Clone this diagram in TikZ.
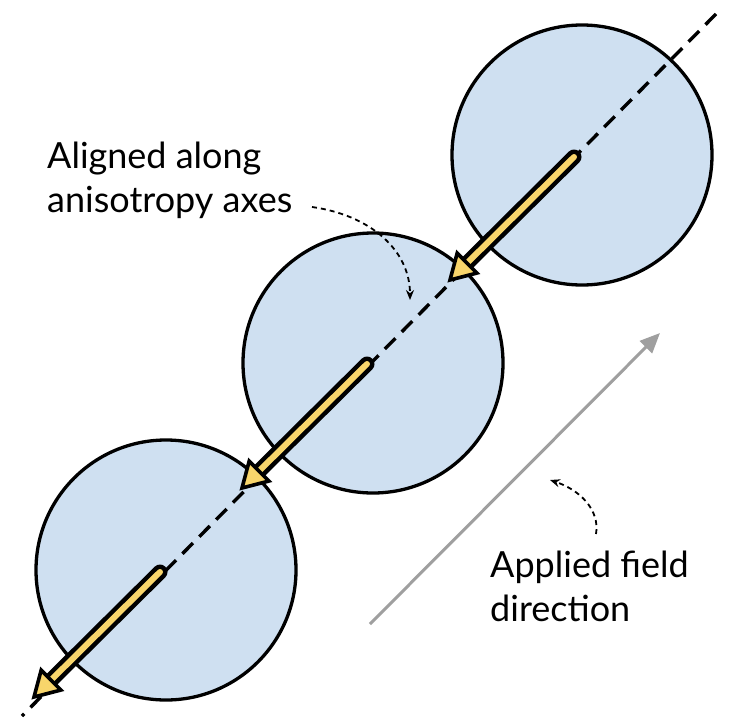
\documentclass[tikz,border=0pt]{standalone}
\usepackage{fontspec}
\setmainfont{Lato}
\usetikzlibrary{calc,arrows.meta}
\definecolor{cfill}{HTML}{CFE0F1}
\definecolor{yel}{HTML}{F8D56B}
\tikzset{
  disc/.style={circle,draw=black,line width=3.3pt,fill=cfill,minimum size=260pt,inner sep=0pt},
  axisline/.style={line width=3.4pt,dash pattern=on 15pt off 9pt},
  lbl/.style={font=\fontsize{36}{44}\selectfont,align=left,anchor=west,inner sep=0pt},
  callout/.style={line width=1.8pt,dash pattern=on 5pt off 4pt,-{Stealth[length=10pt,width=8pt]}},
  field/.style={line width=3pt,draw=gray!75,-{Triangle[length=20pt,width=17pt]}}
}
\newcommand{\magarrow}[2]{%
  \coordinate (hb) at ($(#2)!24pt!(#1)$);
  \draw[line width=15pt,line cap=round] (#1) -- (hb);
  \draw[line width=6pt,yel,line cap=round] (#1) -- ($(hb)!-3pt!(#1)$);
  \draw[line width=3.6pt,fill=yel,line join=miter] (#2) -- ($(hb)!14pt!90:(#2)$) -- ($(hb)!14pt!-90:(#2)$) -- cycle;
}
\begin{document}
\begin{tikzpicture}[x=1pt,y=-1pt]
\useasboundingbox (0,0) rectangle (747,723);
\node[disc] (c1) at (582,155) {};
\node[disc] (c2) at (373,363) {};
\node[disc] (c3) at (166,570) {};
\coordinate (ta) at (716,14);
\coordinate (tb) at (22,716);
\draw[axisline] (ta) -- (tb);
\coordinate (a1s) at (574,157); \coordinate (a1e) at (450,280);
\coordinate (a2s) at (367,364); \coordinate (a2e) at (242,488);
\coordinate (a3s) at (160,572); \coordinate (a3e) at (34,697);
\magarrow{a1s}{a1e}
\magarrow{a2s}{a2e}
\magarrow{a3s}{a3e}
\coordinate (fs) at (370,624); \coordinate (fe) at (660,333);
\draw[field] (fs) -- (fe);
\node[lbl] (t1) at (47,180) {Aligned along\\anisotropy axes};
\coordinate (p1) at (312,207); \coordinate (q1) at (410,300);
\draw[callout] (p1) .. controls (370,215) and (410,250) .. (q1);
\node[lbl] (t2) at (490,586) {Applied field\\direction};
\coordinate (p2) at (596,534); \coordinate (q2) at (550,480);
\draw[callout] (p2) .. controls (600,510) and (580,490) .. (q2);
\end{tikzpicture}
\end{document}
